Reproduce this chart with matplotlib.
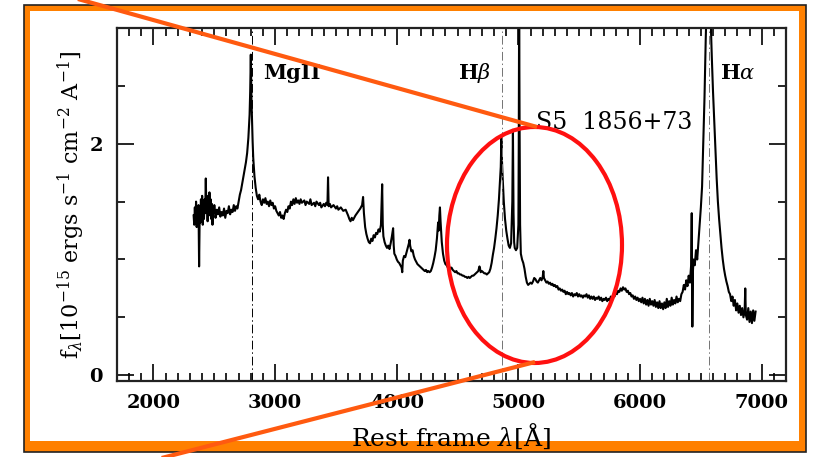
import matplotlib
matplotlib.use("Agg")
import matplotlib.pyplot as plt
from matplotlib.patches import Rectangle, Ellipse
from matplotlib.ticker import MultipleLocator, FixedLocator

plt.rcParams['font.family'] = ['DejaVu Serif']
plt.rcParams['mathtext.fontset'] = 'dejavuserif'

# spectrum (rest frame wavelength in A, flux in 1e-15 units)
wave = [2330, 2335, 2340, 2345, 2350, 2355, 2360, 2365, 2370, 2375, 2380, 2385, 2390, 2395,
        2400, 2405, 2410, 2415, 2420, 2425, 2430, 2435, 2440, 2445, 2450, 2455, 2460, 2465,
        2470, 2475, 2480, 2485, 2490, 2495, 2500,
        2510, 2520, 2530, 2540, 2550, 2560, 2570, 2580, 2590, 2600, 2610, 2620, 2630, 2640,
        2650, 2660, 2670, 2680, 2690, 2700, 2710, 2720, 2730, 2740, 2750, 2760, 2770, 2780,
        2790, 2795, 2800, 2805, 2810, 2815, 2820, 2830, 2840, 2850, 2860, 2870,
        2880, 2890, 2900, 2910, 2920, 2930, 2940, 2950, 2960, 2970, 2980, 2990, 3000, 3010,
        3020, 3030, 3040, 3050, 3060, 3070, 3080, 3090, 3100, 3110, 3120, 3130, 3140, 3150,
        3160, 3170, 3180, 3190, 3200, 3210, 3220, 3240, 3250, 3260, 3280, 3290, 3300, 3320,
        3330, 3340, 3360, 3370, 3380, 3400, 3410, 3420, 3430, 3435, 3440, 3450, 3460, 3480,
        3500, 3510, 3520, 3540, 3560, 3580, 3600, 3610, 3620, 3630, 3640, 3660, 3680, 3700,
        3715, 3723, 3730, 3740, 3750, 3760, 3770, 3780, 3790, 3800, 3810, 3820, 3830, 3840,
        3850, 3860, 3870, 3880, 3885, 3890, 3900, 3910, 3920, 3930, 3940, 3950, 3960, 3970,
        3975, 3980, 3990, 4000, 4010, 4020, 4030, 4040, 4045, 4050, 4060, 4070, 4080, 4090,
        4100, 4105, 4110, 4120, 4130, 4140, 4150, 4160, 4170, 4180, 4190, 4200, 4210, 4220,
        4230, 4240, 4250, 4260, 4270, 4280, 4290, 4300, 4310, 4320, 4330, 4340, 4345, 4350,
        4355, 4360, 4370, 4380, 4390, 4400, 4410, 4420, 4430, 4440, 4450, 4460, 4470, 4480,
        4490, 4500, 4510, 4520, 4530, 4540, 4550, 4560, 4570, 4580, 4590, 4600, 4610, 4620,
        4630, 4640, 4650, 4660, 4670, 4680, 4685, 4690, 4700, 4710, 4720, 4730, 4740, 4750,
        4760, 4770, 4780, 4790, 4800, 4810, 4820, 4830, 4840, 4850, 4855, 4860, 4865, 4870,
        4880, 4890, 4900, 4910, 4920, 4930, 4940, 4950, 4955, 4960, 4965, 4970, 4980, 4990,
        5000, 5003, 5006, 5010, 5014, 5020, 5030, 5040, 5050, 5060, 5070, 5080, 5090, 5100,
        5110, 5120, 5130, 5140, 5150, 5160, 5170, 5180, 5190, 5200, 5205, 5210, 5220, 5230,
        5240, 5250, 5260, 5270, 5280, 5290, 5300, 5310, 5320, 5330, 5340, 5350, 5360, 5370,
        5380, 5390, 5400, 5410, 5420, 5430, 5440, 5450, 5460, 5470, 5480, 5490, 5500, 5510,
        5520, 5530, 5540, 5550, 5560, 5570, 5580, 5590, 5600, 5610, 5620, 5630, 5640, 5650,
        5660, 5670, 5680, 5690, 5700, 5710, 5720, 5730, 5740, 5750, 5760, 5770, 5780, 5790,
        5800, 5810, 5820, 5830, 5840, 5850, 5860, 5870, 5880, 5890, 5900, 5910, 5920, 5930,
        5940, 5950, 5960, 5970, 5980, 5990, 6000, 6010, 6020, 6030, 6040, 6050, 6060, 6070,
        6080, 6090, 6100, 6110, 6120, 6130, 6140, 6150, 6160, 6170, 6180, 6190, 6200, 6210,
        6220, 6230, 6240, 6250, 6260, 6270, 6280, 6290, 6300, 6310, 6320, 6330, 6340, 6350,
        6360, 6370, 6380, 6390, 6400, 6410, 6420, 6425, 6430, 6435, 6440, 6450, 6460, 6470,
        6480, 6490, 6500, 6510, 6520, 6530, 6540, 6550, 6560, 6570, 6580, 6590, 6600, 6610,
        6620, 6630, 6640, 6650, 6660, 6670, 6680, 6690, 6700, 6710, 6720, 6730, 6740, 6750,
        6760, 6770, 6780, 6790, 6800, 6810, 6820, 6830, 6840, 6850, 6860, 6865, 6870, 6880,
        6890, 6900, 6910, 6920, 6930, 6940, 6950]

flux = [1.38, 1.30, 1.45, 1.33, 1.50, 1.28, 1.42, 1.36, 1.47, 0.94, 1.40, 1.32, 1.52, 1.38,
        1.55, 1.30, 1.46, 1.35, 1.52, 1.40, 1.70, 1.42, 1.50, 1.33, 1.55, 1.38, 1.58, 1.40,
        1.52, 1.35, 1.48, 1.30, 1.45, 1.40, 1.47,
        1.36, 1.43, 1.39, 1.45, 1.37, 1.41, 1.38, 1.44, 1.36, 1.42, 1.40, 1.46, 1.39, 1.43,
        1.41, 1.47, 1.42, 1.46, 1.44, 1.50, 1.56, 1.60, 1.66, 1.72, 1.78, 1.84, 1.92, 2.05,
        2.25, 2.45, 2.77, 2.40, 2.20, 2.02, 1.88, 1.72, 1.62, 1.55, 1.52, 1.56,
        1.50, 1.47, 1.52, 1.49, 1.53, 1.48, 1.50, 1.46, 1.51, 1.47, 1.49, 1.44, 1.46, 1.42,
        1.40, 1.38, 1.41, 1.36, 1.38, 1.35, 1.40, 1.43, 1.41, 1.46, 1.44, 1.50, 1.47, 1.52,
        1.48, 1.53, 1.49, 1.51, 1.48, 1.52, 1.49, 1.51, 1.47, 1.50, 1.48, 1.52, 1.47, 1.49,
        1.46, 1.50, 1.47, 1.49, 1.45, 1.48, 1.46, 1.49, 1.47, 1.71, 1.46, 1.48, 1.45, 1.47,
        1.44, 1.46, 1.43, 1.45, 1.42, 1.43, 1.38, 1.35, 1.33, 1.36, 1.34, 1.38, 1.41, 1.44,
        1.47, 1.54, 1.40, 1.28, 1.22, 1.18, 1.15, 1.14, 1.18, 1.16, 1.21, 1.19, 1.23, 1.22,
        1.26, 1.24, 1.30, 1.65, 1.30, 1.20, 1.15, 1.12, 1.10, 1.12, 1.09, 1.14, 1.20, 1.27,
        1.12, 1.05, 1.03, 1.00, 0.98, 0.97, 0.95, 0.93, 0.89, 0.99, 1.03, 1.02, 1.06, 1.10,
        1.14, 1.17, 1.12, 1.07, 1.08, 1.03, 1.00, 0.98, 0.96, 0.95, 0.94, 0.93, 0.92, 0.91,
        0.90, 0.91, 0.89, 0.90, 0.89, 0.90, 0.93, 0.97, 1.02, 1.08, 1.18, 1.32, 1.25, 1.38,
        1.45, 1.33, 1.15, 1.05, 0.99, 0.96, 0.95, 0.93, 0.94, 0.92, 0.93, 0.91, 0.90, 0.89,
        0.90, 0.88, 0.88, 0.87, 0.87, 0.86, 0.86, 0.85, 0.85, 0.84, 0.85, 0.84, 0.85, 0.86,
        0.86, 0.87, 0.88, 0.89, 0.90, 0.94, 0.92, 0.89, 0.90, 0.89, 0.88, 0.88, 0.87, 0.88,
        0.89, 0.92, 0.97, 1.04, 1.10, 1.18, 1.27, 1.38, 1.52, 1.70, 1.80, 2.05, 1.85, 1.72,
        1.50, 1.35, 1.25, 1.18, 1.12, 1.10, 1.14, 1.50, 2.12, 1.40, 1.15, 1.10, 1.08, 1.10,
        1.30, 2.00, 3.20, 2.10, 1.30, 1.05, 1.00, 0.97, 0.92, 0.85, 0.80, 0.78, 0.79, 0.80,
        0.79, 0.81, 0.84, 0.83, 0.81, 0.80, 0.82, 0.84, 0.82, 0.85, 0.90, 0.84, 0.82, 0.80,
        0.81, 0.79, 0.80, 0.78, 0.79, 0.77, 0.78, 0.76, 0.77, 0.74, 0.75, 0.73, 0.74, 0.72,
        0.73, 0.70, 0.72, 0.70, 0.71, 0.69, 0.71, 0.68, 0.70, 0.69, 0.71, 0.68, 0.70, 0.68,
        0.69, 0.67, 0.69, 0.68, 0.70, 0.67, 0.69, 0.66, 0.68, 0.66, 0.68, 0.65, 0.67, 0.66,
        0.68, 0.65, 0.67, 0.64, 0.66, 0.65, 0.67, 0.64, 0.66, 0.65, 0.68, 0.66, 0.69, 0.68,
        0.71, 0.70, 0.73, 0.72, 0.75, 0.73, 0.76, 0.74, 0.75, 0.72, 0.73, 0.70, 0.71, 0.68,
        0.69, 0.66, 0.68, 0.65, 0.67, 0.64, 0.66, 0.63, 0.67, 0.62, 0.66, 0.61, 0.65, 0.60,
        0.66, 0.61, 0.64, 0.60, 0.65, 0.59, 0.63, 0.58, 0.64, 0.58, 0.62, 0.57, 0.63, 0.58,
        0.66, 0.59, 0.64, 0.60, 0.67, 0.61, 0.65, 0.62, 0.68, 0.63, 0.66, 0.64, 0.70, 0.72,
        0.78, 0.74, 0.82, 0.77, 0.86, 0.80, 0.95, 1.40, 0.42, 0.90, 1.00, 0.95, 1.08, 1.00,
        1.15, 1.30, 1.45, 1.63, 2.00, 2.40, 2.90, 3.30, 3.50, 3.40, 3.10, 2.75, 2.45, 2.20,
        1.95, 1.70, 1.50, 1.35, 1.22, 1.10, 1.00, 0.92, 0.86, 0.81, 0.77, 0.72, 0.70, 0.64,
        0.68, 0.60, 0.65, 0.56, 0.62, 0.54, 0.60, 0.52, 0.58, 0.50, 0.56, 0.75, 0.52, 0.48,
        0.58, 0.46, 0.55, 0.45, 0.56, 0.47, 0.55]

# emission line markers
line_names = ['MgII', r'H$\beta$', r'H$\alpha$']
line_waves = [2808, 4865, 6565]
label_x = [2900, 4505, 6660]
label_y = 2.56

W, H = 814, 457
fig = plt.figure(figsize=(W / 100, H / 100), dpi=100)

# background frame (pixel coords)
bg = fig.add_axes([0, 0, 1, 1], zorder=0)
bg.set_xlim(0, W)
bg.set_ylim(H, 0)
bg.axis('off')
bg.add_patch(Rectangle((24, 5), 782, 447, facecolor='#ff8000', edgecolor='#222222', lw=1.2))
bg.add_patch(Rectangle((30, 11), 769, 430, facecolor='white', edgecolor='none'))

ax = fig.add_axes([117 / W, 1 - 381 / H, 669 / W, 353 / H], zorder=1)
ax.plot(wave, flux, color='black', lw=1.5)

for i in range(len(line_waves)):
    col = 'black' if i == 0 else '0.45'
    ax.axvline(line_waves[i], color=col, lw=0.7, ls=(0, (9, 3, 1.5, 3)))
    ax.text(label_x[i], label_y, line_names[i], fontsize=15, fontweight='bold',
            ha='left', va='baseline')

ax.text(5146, 2.13, 'S5  1856+73', fontsize=17, ha='left', va='baseline')

ax.set_xlim(1700, 7200)
ax.set_ylim(-0.05, 3.0)
ax.xaxis.set_major_locator(MultipleLocator(1000))
ax.xaxis.set_minor_locator(MultipleLocator(100))
ax.yaxis.set_major_locator(FixedLocator([0, 2]))
ax.yaxis.set_minor_locator(MultipleLocator(0.5))
ax.tick_params(which='both', direction='in', top=True, right=True, width=1.2)
ax.tick_params(which='major', length=12)
ax.tick_params(which='minor', length=6)
ax.tick_params(axis='x', which='major', pad=9, labelsize=14)
ax.tick_params(axis='y', which='major', pad=10, labelsize=14)
for lab in ax.get_xticklabels() + ax.get_yticklabels():
    lab.set_fontweight('bold')
for s in ax.spines.values():
    s.set_linewidth(1.6)
    s.set_color('#222222')

ax.set_xlabel(r'Rest frame $\lambda$[Å]', fontsize=18, labelpad=7)
ax.set_ylabel(r'f$_\lambda$[10$^{-15}$ ergs s$^{-1}$ cm$^{-2}$ A$^{-1}$]', fontsize=16,
              labelpad=2)

# highlight ellipse and zoom lines (pixel coords)
ov = fig.add_axes([0, 0, 1, 1], zorder=2)
ov.set_xlim(0, W)
ov.set_ylim(H, 0)
ov.axis('off')
ov.patch.set_alpha(0)
ov.plot([60, 537], [-6, 127], color='#ff5a10', lw=3, solid_capstyle='butt')
ov.plot([150, 535], [461, 362], color='#ff5a10', lw=3, solid_capstyle='butt')
ov.add_patch(Ellipse((534.5, 245), 175, 236, facecolor='none', edgecolor='#ff1010', lw=3))

fig.savefig('out.png', dpi=100)
